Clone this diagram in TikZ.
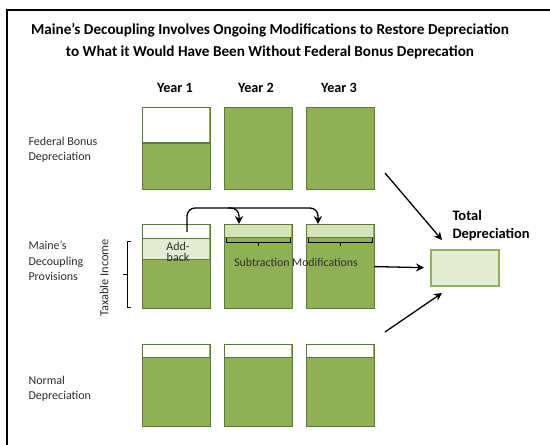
\documentclass[tikz,border=0pt]{standalone}
\usepackage{fontspec}
\setmainfont{Carlito}
\usetikzlibrary{arrows.meta}
\definecolor{boxg}{RGB}{144,176,86}
\definecolor{boxb}{RGB}{92,122,52}
\definecolor{paleg}{RGB}{228,237,212}
\definecolor{stripg}{RGB}{214,228,188}
\definecolor{txt}{RGB}{45,45,45}
\begin{document}
\begin{tikzpicture}[x=1pt,y=-1pt,
  gbox/.style={draw=boxb,fill=boxg,line width=1.2pt,minimum width=68pt,inner sep=0pt,anchor=north west},
  conn/.style={line width=1.3pt,-{Stealth[length=8pt,width=8pt]}},
  lbl/.style={anchor=west,align=left,text=txt,font=\fontsize{12}{15.5}\selectfont},
  yr/.style={font=\bfseries\fontsize{14.2}{16}\selectfont},
  brk/.style={line width=1pt}]
\useasboundingbox (0,0) rectangle (550,445);
\draw[line width=2pt] (7,446) -- (7,10) -- (551,10);
\node[align=center,font=\bfseries\fontsize{15.2}{21.5}\selectfont,inner sep=0pt] (title) at (270,41)
 {Maine’s Decoupling Involves Ongoing Modifications to Restore Depreciation\\to What it Would Have Been Without Federal Bonus Deprecation};
% year labels
\node[yr] (y1) at (175,88) {Year 1};
\node[yr] (y2) at (256,88) {Year 2};
\node[yr] (y3) at (339,88) {Year 3};
% row labels
\node[lbl] (lf) at (25,150) {Federal Bonus\\Depreciation};
\node[lbl] (lm) at (25,261) {Maine’s\\Decoupling\\Provisions};
\node[lbl] (ln) at (25,389) {Normal\\Depreciation};
% top row
\node[gbox,minimum height=82pt] (t1) at (142,107) {};
\node[gbox,minimum height=82pt] (t2) at (224,107) {};
\node[gbox,minimum height=82pt] (t3) at (306,107) {};
\fill[white] (142.6,107.6) rectangle (209.4,143);
\draw[boxb,line width=1.2pt] (142,143) -- (210,143);
% middle row
\node[gbox,minimum height=84pt] (m1) at (142,224) {};
\node[gbox,minimum height=84pt] (m2) at (224,224) {};
\node[gbox,minimum height=84pt] (m3) at (306,224) {};
\fill[white] (142.6,224.6) rectangle (209.4,238);
\fill[paleg] (142.6,238) rectangle (209.4,259);
\draw[boxb,line width=1pt] (142,238) -- (210,238) (142,259) -- (210,259);
\fill[stripg] (224.6,224.6) rectangle (291.4,237);
\fill[stripg] (306.6,224.6) rectangle (373.4,237);
\draw[boxb,line width=1pt] (224,237) -- (292,237) (306,237) -- (374,237);
% braces under strips
\draw[brk] (226,238) -- (226,242) -- (290,242) -- (290,238) (258,242) -- (258,246);
\draw[brk] (308,238) -- (308,242) -- (372,242) -- (372,238) (340,242) -- (340,246);
\node[align=center,font=\fontsize{12}{11.5}\selectfont,text=txt] (add) at (178,252) {Add-\\back};
\node[font=\fontsize{11.8}{13}\selectfont,text=txt] (sub) at (296,262) {Subtraction Modifications};
% taxable income brace
\draw[brk] (131,241) -- (127,241) -- (127,307) -- (131,307) (127,274) -- (123,274);
\node[rotate=90,font=\fontsize{12.4}{13}\selectfont,text=txt] (tax) at (104,278) {Taxable Income};
% connector arrows
\coordinate (a0) at (187,232);
\coordinate (a2) at (239,224);
\coordinate (a3) at (318,224);
\draw[conn,rounded corners=8pt] (a0) -- (187,208) -- (318,208) -- (a3);
\draw[conn,rounded corners=8pt] (228,208) -- (239,208) -- (a2);
% bottom row
\node[gbox,minimum height=82pt] (b1) at (142,344) {};
\node[gbox,minimum height=82pt] (b2) at (224,344) {};
\node[gbox,minimum height=82pt] (b3) at (306,344) {};
\foreach \x in {142,224,306}{
  \fill[white] (\x+0.6,344.6) rectangle (\x+67.4,357);
  \draw[boxb,line width=1pt] (\x,357) -- (\x+68,357);
}
% total depreciation
\node[draw=boxg,fill=paleg,line width=1.6pt,minimum width=68pt,minimum height=36pt,inner sep=0pt,anchor=north west] (tot) at (430,249) {};
\node[anchor=west,align=left,font=\bfseries\fontsize{14.5}{18}\selectfont] (totl) at (449,226) {Total\\Depreciation};
\coordinate (s1) at (385,173);
\coordinate (e1) at (442,240);
\coordinate (s3) at (385,332);
\coordinate (e3) at (442,293);
\draw[conn] (s1) -- (e1);
\draw[conn,shorten <=-1pt,shorten >=6pt] (m3.east) -- (tot.west);
\draw[conn] (s3) -- (e3);
\end{tikzpicture}
\end{document}
